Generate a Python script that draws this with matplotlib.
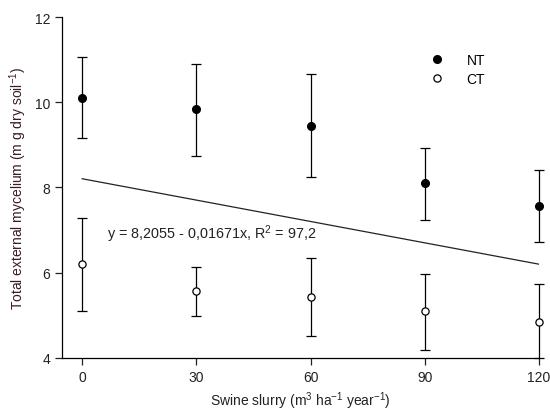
import matplotlib
matplotlib.use('Agg')
import matplotlib.pyplot as plt

plt.rcParams['font.family'] = ['Liberation Sans', 'DejaVu Sans']
plt.rcParams['mathtext.fontset'] = 'custom'
plt.rcParams['mathtext.rm'] = 'Liberation Sans'
plt.rcParams['mathtext.it'] = 'Liberation Sans:italic'

# data
doses = [0, 30, 60, 90, 120]
nt_mean = [10.11, 9.85, 9.45, 8.10, 7.56]
nt_low = [9.17, 8.73, 8.25, 7.24, 6.72]
nt_high = [11.07, 10.90, 10.67, 8.92, 8.40]
ct_mean = [6.20, 5.58, 5.44, 5.10, 4.84]
ct_low = [5.10, 4.98, 4.52, 4.18, 4.00]
ct_high = [7.29, 6.14, 6.35, 5.98, 5.74]

# regression line
b0 = 8.2055
b1 = -0.01671
fit_x = [0, 120]

fig = plt.figure(figsize=(5.5, 4.14), dpi=100)
ax = fig.add_axes([0.1127, 0.1329, 0.8673, 0.8236])

nt_err = [[m - l for m, l in zip(nt_mean, nt_low)], [h - m for m, h in zip(nt_mean, nt_high)]]
ct_err = [[m - l for m, l in zip(ct_mean, ct_low)], [h - m for m, h in zip(ct_mean, ct_high)]]

eb1 = ax.errorbar(doses, nt_mean, yerr=nt_err, fmt='o', color='black', mfc='black', mec='black',
                  ms=5.5, capsize=3.3, elinewidth=0.9, capthick=0.9, label='NT', zorder=3)
eb2 = ax.errorbar(doses, ct_mean, yerr=ct_err, fmt='o', color='black', mfc='white', mec='black',
                  ms=5.2, mew=0.9, capsize=3.3, elinewidth=0.9, capthick=0.9, label='CT', zorder=3)
for eb in (eb1, eb2):
    for a in eb.get_children():
        a.set_clip_on(False)

ax.plot(fit_x, [b0 + b1 * x for x in fit_x], color='#222222', lw=0.9)

ax.text(6.6, 6.93, 'y = 8,2055 - 0,01671x, R$^2$ = 97,2', fontsize=10.4, va='center', color='#222222')

ax.set_xlim(-5.3, 120)
ax.set_ylim(4, 12)
ax.set_xticks(doses)
ax.set_yticks([4, 6, 8, 10, 12])

ax.spines['top'].set_visible(False)
ax.spines['right'].set_visible(False)
for s in ['left', 'bottom']:
    ax.spines[s].set_linewidth(0.9)
ax.tick_params(direction='out', length=5, width=0.9, labelsize=10, colors='#222222')

ax.set_xlabel('Swine slurry (m$^3$ ha$^{-1}$ year$^{-1}$)', fontsize=10, color='#222222')
ax.set_ylabel('Total external mycelium (m g dry soil$^{-1}$)', fontsize=10, color='#3a1a2a')

handles, labels = ax.get_legend_handles_labels()
handles = [h[0] for h in handles]
ax.legend(handles, labels, loc='upper right', bbox_to_anchor=(0.913, 0.932), frameon=False,
          fontsize=10, handletextpad=1.6, handlelength=1.0, labelspacing=0.4)

fig.savefig('out.png', dpi=100)
